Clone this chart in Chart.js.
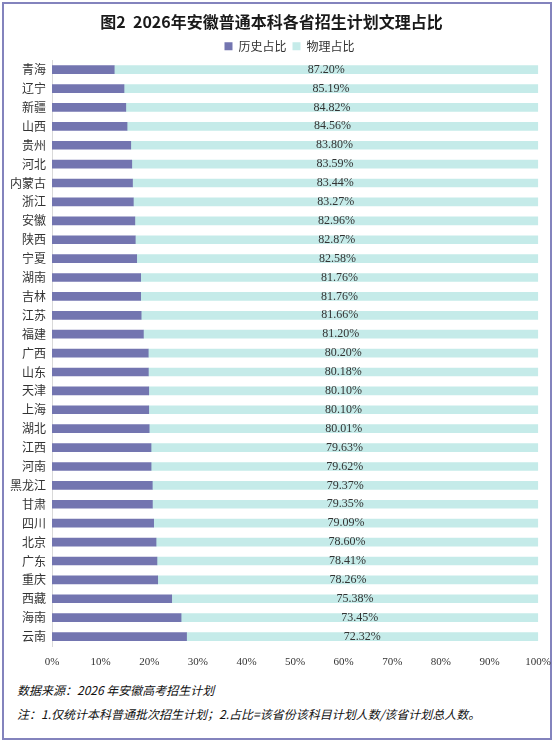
<!DOCTYPE html>
<html>
<head>
<meta charset="utf-8">
<script src="https://cdn.jsdelivr.net/npm/chart.js@4"></script>
<style>
  body { margin: 0; background: #fff; overflow: hidden; }
  #frame { position: absolute; left: 2px; top: 2px; width: 550px; height: 738px;
           box-sizing: border-box; border: 2px solid #8383bd; }
  #box { position: absolute; left: 0; top: 0; width: 556px; height: 680px; }
  .note { position: absolute; left: 17px; font-family: "Noto Sans CJK SC"; font-size: 12px;
          font-style: italic; color: #111; line-height: 16px; white-space: nowrap; }
</style>
</head>
<body>
<div id="frame"></div>
<div id="box"><canvas id="graf_wenli"></canvas></div>
<div class="note" style="top:682px">数据来源：2026 年安徽高考招生计划</div>
<div class="note" style="top:706px">注：1.仅统计本科普通批次招生计划；2.占比=该省份该科目计划人数/该省计划总人数。</div>
<script>
// provincias y porcentajes
var provincias = ['青海', '辽宁', '新疆', '山西', '贵州', '河北', '内蒙古', '浙江', '安徽', '陕西',
  '宁夏', '湖南', '吉林', '江苏', '福建', '广西', '山东', '天津', '上海', '湖北',
  '江西', '河南', '黑龙江', '甘肃', '四川', '北京', '广东', '重庆', '西藏', '海南', '云南'];
var lishi = [12.80, 14.81, 15.18, 15.44, 16.20, 16.41, 16.56, 16.73, 17.04, 17.13,
  17.42, 18.24, 18.24, 18.34, 18.80, 19.80, 19.82, 19.90, 19.90, 19.99,
  20.37, 20.38, 20.63, 20.65, 20.91, 21.40, 21.59, 21.74, 24.62, 26.55, 27.68];
var wuli = [87.20, 85.19, 84.82, 84.56, 83.80, 83.59, 83.44, 83.27, 82.96, 82.87,
  82.58, 81.76, 81.76, 81.66, 81.20, 80.20, 80.18, 80.10, 80.10, 80.01,
  79.63, 79.62, 79.37, 79.35, 79.09, 78.60, 78.41, 78.26, 75.38, 73.45, 72.32];
var xTicks = [0, 10, 20, 30, 40, 50, 60, 70, 80, 90, 100];

var ctx = document.getElementById('graf_wenli').getContext('2d');

// etiqueta del porcentaje de fisica en el centro de su barra
var etiquetas = {
  id: 'etiquetas',
  afterLayout: function (chart) {
    // la leyenda va un poco mas a la derecha y abajo, como en el original
    var lg = chart.legend;
    lg.left += 18; lg.right += 18;
    lg.top += 2; lg.bottom += 2;
  },
  afterDatasetsDraw: function (chart) {
    var meta = chart.getDatasetMeta(1);
    var c = chart.ctx;
    c.save();
    c.font = '12px "Liberation Serif"';
    c.fillStyle = '#333';
    c.textAlign = 'center';
    c.textBaseline = 'middle';
    meta.data.forEach(function (bar, i) {
      c.fillText(wuli[i].toFixed(2) + '%', (bar.x + bar.base) / 2, bar.y);
    });
    c.restore();
  }
};

var graf = new Chart(ctx, {
  type: 'bar',
  data: {
    labels: provincias,
    datasets: [{
      label: '历史占比',
      data: lishi,
      backgroundColor: '#7375b0',
      barThickness: 8
    }, {
      label: '物理占比',
      data: lishi.map(function (v, i) { return 100 - v; }),
      backgroundColor: '#c5ebe9',
      barThickness: 8
    }]
  },
  options: {
    indexAxis: 'y',
    responsive: true,
    maintainAspectRatio: false,
    animation: false,
    layout: { padding: { left: 0, right: 13, top: 0, bottom: 6 } },
    plugins: {
      title: {
        display: true,
        text: '图2  2026年安徽普通本科各省招生计划文理占比',
        color: '#1a1a1a',
        font: { family: '"Noto Sans CJK SC"', size: 16, weight: 'bold' },
        padding: { top: 12, bottom: 1 }
      },
      legend: {
        labels: {
          boxWidth: 8, boxHeight: 8, padding: 6, color: '#333',
          font: { family: '"Noto Sans CJK SC"', size: 12 }
        }
      },
      tooltip: { enabled: false }
    },
    scales: {
      x: {
        stacked: true,
        min: 0, max: 100,
        afterBuildTicks: function (s) { s.ticks = xTicks.map(function (v) { return { value: v }; }); },
        ticks: {
          callback: function (v) { return v + '%'; },
          color: '#333', padding: 5, maxRotation: 0, autoSkip: false,
          font: { family: '"Liberation Serif"', size: 11 }
        },
        grid: { display: false, drawTicks: true, tickLength: 5 },
        border: { display: false },
        afterFit: function (s) { s.height = 28; }
      },
      y: {
        stacked: true,
        ticks: {
          color: '#333', padding: 6, autoSkip: false,
          font: { family: '"Noto Sans CJK SC"', size: 12 }
        },
        grid: { display: false, drawTicks: false },
        border: { display: true, color: '#d9d9d9' },
        afterFit: function (s) { s.width = 52; }
      }
    }
  },
  plugins: [etiquetas]
});
</script>
</body>
</html>
